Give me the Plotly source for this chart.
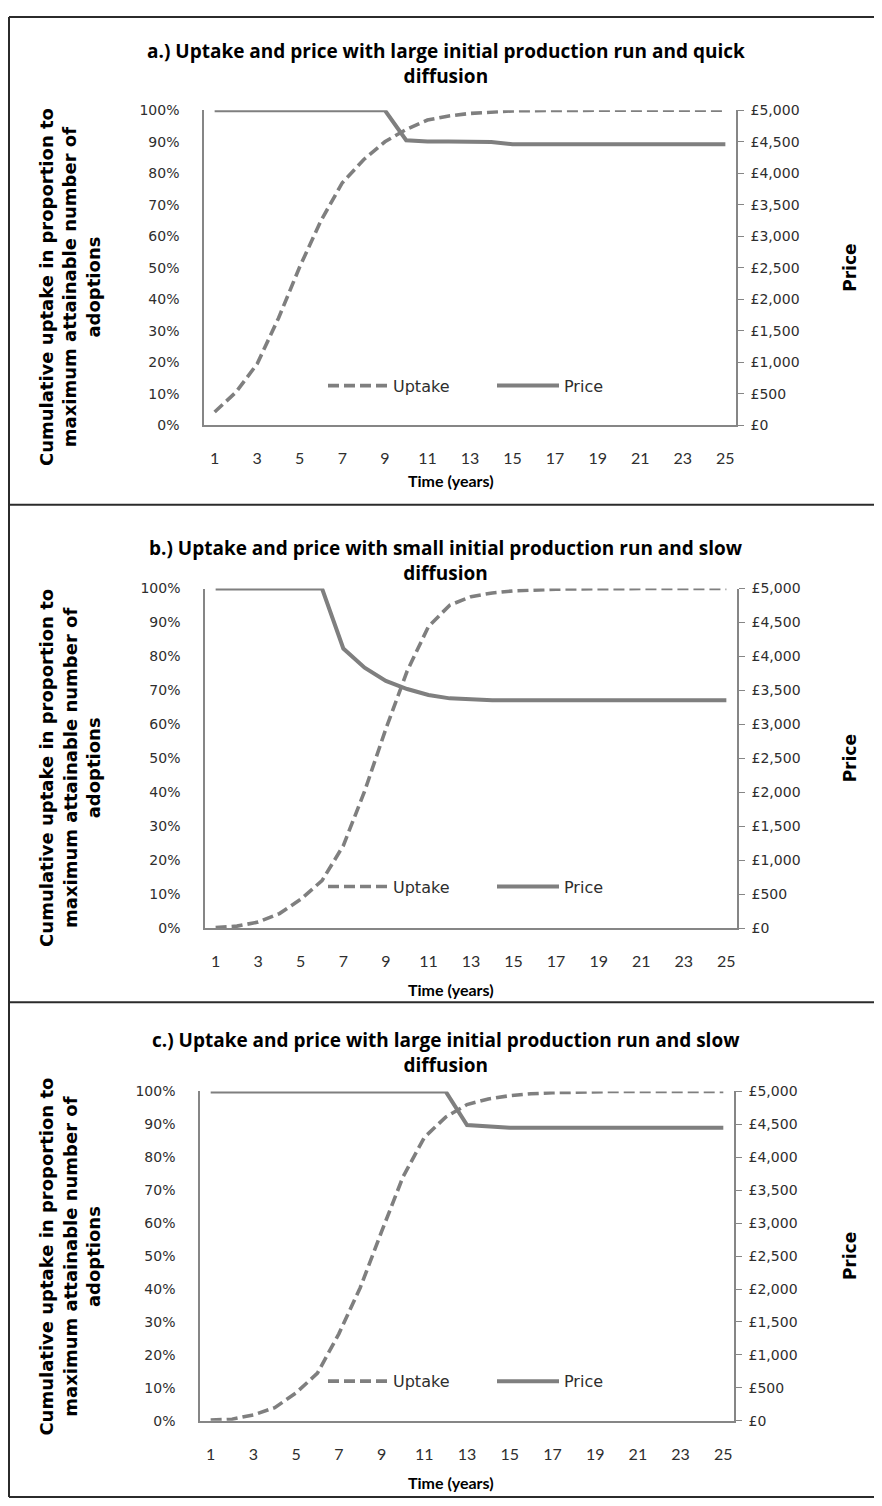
import plotly.graph_objects as go

# The page body adds an 8px margin, so the figure is sized to the visible window.
OFF = 8
W, H = 882 - OFF, 1506 - OFF

years = list(range(1, 26))
year_ticks = [1, 3, 5, 7, 9, 11, 13, 15, 17, 19, 21, 23, 25]
pct_ticks = [0, 10, 20, 30, 40, 50, 60, 70, 80, 90, 100]
price_ticks = [0, 500, 1000, 1500, 2000, 2500, 3000, 3500, 4000, 4500, 5000]

titles = [
    "a.) Uptake and price with large initial production run and quick<br>diffusion",
    "b.) Uptake and price with small initial production run and slow<br>diffusion",
    "c.) Uptake and price with large initial production run and slow<br>diffusion",
]
left_title = "Cumulative uptake in proportion to<br>maximum attainable number of<br>adoptions"
right_title = "Price"
x_title = "Time (years)"

# cumulative uptake (% of maximum attainable adoptions)
uptake_a = [4.2, 10.5, 19.5, 34.0, 50.3, 65.0, 77.0, 84.3, 90.0, 93.9, 96.9, 98.2, 99.0,
            99.5, 99.8, 99.9, 100, 100, 100, 100, 100, 100, 100, 100, 100]
uptake_b = [0.2, 0.6, 1.8, 4.3, 8.5, 14.0, 24.3, 40.3, 58.7, 75.7, 88.8, 95.1, 97.6,
            98.7, 99.3, 99.6, 99.8, 99.9, 100, 100, 100, 100, 100, 100, 100]
uptake_c = [0.2, 0.5, 1.8, 4.0, 8.5, 14.5, 26.4, 40.4, 57.4, 74.0, 86.0, 92.2, 96.0,
            97.7, 98.7, 99.3, 99.6, 99.8, 99.9, 100, 100, 100, 100, 100, 100]

# price (GBP)
price_a = [5000, 5000, 5000, 5000, 5000, 5000, 5000, 5000, 5000, 4525, 4505, 4505, 4505,
           4495, 4460, 4460, 4460, 4460, 4460, 4460, 4460, 4460, 4460, 4460, 4460]
price_b = [5000, 5000, 5000, 5000, 5000, 5000, 4117, 3835, 3641, 3520, 3433, 3383, 3370,
           3355, 3355, 3355, 3355, 3355, 3355, 3355, 3355, 3355, 3355, 3355, 3355]
price_c = [5000, 5000, 5000, 5000, 5000, 5000, 5000, 5000, 5000, 5000, 5000, 5000, 4488,
           4470, 4450, 4450, 4450, 4450, 4450, 4450, 4450, 4450, 4450, 4450, 4450]

uptakes = [uptake_a, uptake_b, uptake_c]
prices = [price_a, price_b, price_c]

LINE = "#7f7f7f"
AXIS = "#868686"
TXT = "#2e2e2e"
TICKFONT = "DejaVu Sans"
CAL = "Lato"


def px(x):
    return (x - OFF) / W


def py(y):
    return 1 - (y - OFF) / H


# plot-area boxes in page pixels: (left, right, top, bottom)
boxes = [(204, 736, 103.3, 421.7), (205, 737, 586.7, 930.0), (200, 734, 1095.0, 1428.0)]
title_y = [56, 558, 1056]
xlab_y = [478, 992, 1490]
ltitle_y = [282, 768, 1262]
legend_y = [381.7, 888, 1388]

fig = go.Figure()
layout = dict(
    width=W, height=H, autosize=False,
    margin=dict(l=0, r=0, t=0, b=0),
    paper_bgcolor="white", plot_bgcolor="white",
    showlegend=True,
)
annotations = []
shapes = []

for i in range(3):
    xa = "x" if i == 0 else f"x{i + 1}"
    yl = f"y{2 * i + 1}" if i > 0 else "y"
    yr = f"y{2 * i + 2}"
    xk = "xaxis" if i == 0 else f"xaxis{i + 1}"
    ylk = "yaxis" if i == 0 else f"yaxis{2 * i + 1}"
    yrk = f"yaxis{2 * i + 2}"
    l, r, t, b = boxes[i]
    leg_u = "legend" if i == 0 else f"legend{2 * i + 1}"
    leg_p = f"legend{2 * i + 2}"

    fig.add_trace(go.Scatter(
        x=years, y=uptakes[i], xaxis=xa, yaxis=yl, mode="lines", name="Uptake",
        line=dict(color=LINE, width=3.6, dash="11px,5px"), cliponaxis=False,
        legend=leg_u, hoverinfo="skip"))
    fig.add_trace(go.Scatter(
        x=years, y=prices[i], xaxis=xa, yaxis=yr, mode="lines", name="Price",
        line=dict(color=LINE, width=4), cliponaxis=False,
        legend=leg_p, hoverinfo="skip"))

    layout[xk] = dict(
        domain=[px(l), px(r)], anchor=yl, range=[0.5, 25.5],
        tickmode="array", tickvals=year_ticks, ticktext=[str(v) for v in year_ticks],
        showline=True, linecolor=AXIS, linewidth=1.5, ticks="",
        showgrid=False, zeroline=False,
        tickfont=dict(family=CAL, size=16, color=TXT), ticklabelstandoff=18,
    )
    layout[ylk] = dict(
        domain=[py(b), py(t)], anchor=xa, range=[0, 100],
        tickmode="array", tickvals=pct_ticks, ticktext=[f"{v}%" for v in pct_ticks],
        showline=True, linecolor=AXIS, linewidth=1.5, ticks="",
        showgrid=False, zeroline=False,
        tickfont=dict(family=TICKFONT, size=14, color=TXT), ticklabelstandoff=20,
    )
    layout[yrk] = dict(
        domain=[py(b), py(t)], anchor=xa, overlaying=yl, side="right", range=[0, 5000],
        tickmode="array", tickvals=price_ticks,
        ticktext=[f"£{v:,}" for v in price_ticks],
        showline=True, linecolor=AXIS, linewidth=1.5,
        ticks="outside", ticklen=6, tickcolor=AXIS, tickwidth=1.3,
        showgrid=False, zeroline=False,
        tickfont=dict(family=TICKFONT, size=14, color=TXT), ticklabelstandoff=4,
    )

    layout[leg_u] = dict(
        x=px(323), y=py(legend_y[i]), xanchor="left", yanchor="middle",
        bgcolor="rgba(0,0,0,0)", borderwidth=0, itemwidth=60,
        font=dict(family=TICKFONT, size=16, color=TXT),
    )
    layout[leg_p] = dict(
        x=px(492), y=py(legend_y[i]), xanchor="left", yanchor="middle",
        bgcolor="rgba(0,0,0,0)", borderwidth=0, itemwidth=62,
        font=dict(family=TICKFONT, size=16, color=TXT),
    )

    annotations.append(dict(
        text=titles[i], x=px(446), y=py(title_y[i]), xref="paper", yref="paper",
        xanchor="center", yanchor="middle", showarrow=False,
        font=dict(family="Open Sans", size=19, color="black", weight="bold")))
    annotations.append(dict(
        text=x_title, x=px(451), y=py(xlab_y[i]), xref="paper", yref="paper",
        xanchor="center", yanchor="middle", showarrow=False,
        font=dict(family=CAL, size=16, color="black", weight="bold")))
    annotations.append(dict(
        text=left_title, x=px(70), y=py(ltitle_y[i]), xref="paper", yref="paper",
        xanchor="center", yanchor="middle", showarrow=False, textangle=-90,
        font=dict(family=TICKFONT, size=18, color="black", weight="bold")))
    annotations.append(dict(
        text=right_title, x=px(850), y=py((t + b) / 2), xref="paper", yref="paper",
        xanchor="center", yanchor="middle", showarrow=False, textangle=-90,
        font=dict(family=TICKFONT, size=17, color="black", weight="bold")))

# panel frame (page pixels)
frame = dict(color="#2b2b2b", width=2)
for (x0, y0, x1, y1) in [(9, 9, 880, 9), (9, 1505, 880, 1505), (9, 9, 9, 1505), (880, 9, 880, 1505),
                         (9, 502, 880, 502), (9, 1005, 880, 1005)]:
    shapes.append(dict(type="line", xref="paper", yref="paper",
                       x0=px(x0), y0=py(y0), x1=px(x1), y1=py(y1), line=frame))

layout["annotations"] = annotations
layout["shapes"] = shapes
fig.update_layout(**layout)
fig.write_html("out.html")
